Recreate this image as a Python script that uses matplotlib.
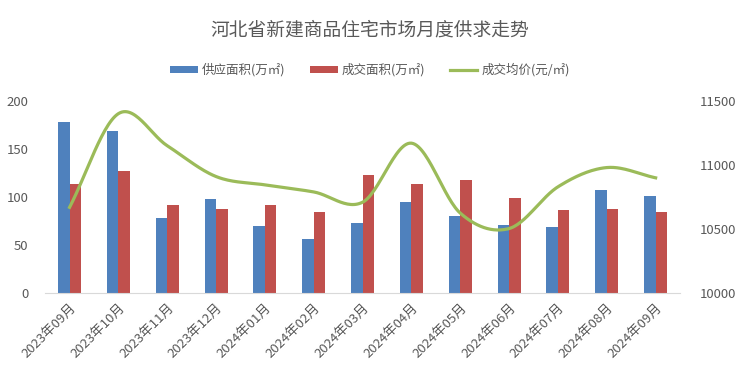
import matplotlib
matplotlib.use("Agg")
import matplotlib.pyplot as plt
import numpy as np

plt.rcParams["font.family"] = ["Noto Sans CJK SC", "DejaVu Sans"]

months = ["2023年09月", "2023年10月", "2023年11月", "2023年12月", "2024年01月",
          "2024年02月", "2024年03月", "2024年04月", "2024年05月", "2024年06月",
          "2024年07月", "2024年08月", "2024年09月"]
supply = [178, 169, 78, 98, 70, 56, 73, 95, 80, 71, 69, 107, 101]
sold = [114, 127, 92, 88, 92, 84, 123, 114, 118, 99, 87, 88, 84]
price = [10670, 11400, 11150, 10910, 10845, 10790, 10710, 11170, 10625, 10505,
         10830, 10980, 10900]

BLUE = "#4F81BD"
RED = "#C0504D"
GREEN = "#9BBB59"
GRAY = "#595959"


def catmull_rom(x, y, n=30, tension=0.5):
    # smooth the curve like a spreadsheet "smoothed line"
    x = np.asarray(x, float)
    y = np.asarray(y, float)
    px = np.concatenate([[2 * x[0] - x[1]], x, [2 * x[-1] - x[-2]]])
    py = np.concatenate([[2 * y[0] - y[1]], y, [2 * y[-1] - y[-2]]])
    xs, ys = [], []
    t = np.linspace(0, 1, n)
    h00 = 2 * t**3 - 3 * t**2 + 1
    h10 = t**3 - 2 * t**2 + t
    h01 = -2 * t**3 + 3 * t**2
    h11 = t**3 - t**2
    for i in range(1, len(px) - 2):
        for p, out in ((px, xs), (py, ys)):
            m1 = tension * (p[i + 1] - p[i - 1])
            m2 = tension * (p[i + 2] - p[i])
            out.extend(h00 * p[i] + h10 * m1 + h01 * p[i + 1] + h11 * m2)
    return np.array(xs), np.array(ys)


fig = plt.figure(figsize=(7.4, 3.79), dpi=100)
ax = fig.add_axes([0.061, 0.226, 0.858, 0.508])
ax2 = ax.twinx()

x = np.arange(len(months))
w = 0.235
ax.bar(x - w / 2, supply, w, color=BLUE, label="供应面积(万㎡)", zorder=2)
ax.bar(x + w / 2, sold, w, color=RED, label="成交面积(万㎡)", zorder=2)
sx, sy = catmull_rom(x, price)
ax2.plot(sx, sy, color=GREEN, lw=2.3, label="成交均价(元/㎡)", zorder=3)

ax.set_xlim(-0.5, len(months) - 0.5)
ax.set_ylim(0, 200)
ax.set_yticks(range(0, 201, 50))
ax2.set_ylim(10000, 11500)
ax2.set_yticks(range(10000, 11501, 500))

ax.set_xticks(x, months, rotation=45, ha="right", rotation_mode="anchor")
for a in (ax, ax2):
    for s in a.spines.values():
        s.set_visible(False)
    a.tick_params(length=0, colors=GRAY, labelsize=9.5)
ax.spines["bottom"].set_visible(True)
ax.spines["bottom"].set_color("#D9D9D9")
ax.tick_params(axis="x", pad=6)
ax.tick_params(axis="y", pad=12)
ax2.tick_params(axis="y", pad=14)

h1, l1 = ax.get_legend_handles_labels()
h2, l2 = ax2.get_legend_handles_labels()
fig.legend(h1 + h2, l1 + l2, loc="center", bbox_to_anchor=(0.5, 0.815), ncol=3,
           frameon=False, fontsize=9, labelcolor=GRAY, handlelength=2.2,
           handleheight=0.6, columnspacing=2.0, handletextpad=0.3)

fig.suptitle("河北省新建商品住宅市场月度供求走势", y=0.948, fontsize=13.5, color=GRAY)

fig.savefig("out.png", dpi=100)
